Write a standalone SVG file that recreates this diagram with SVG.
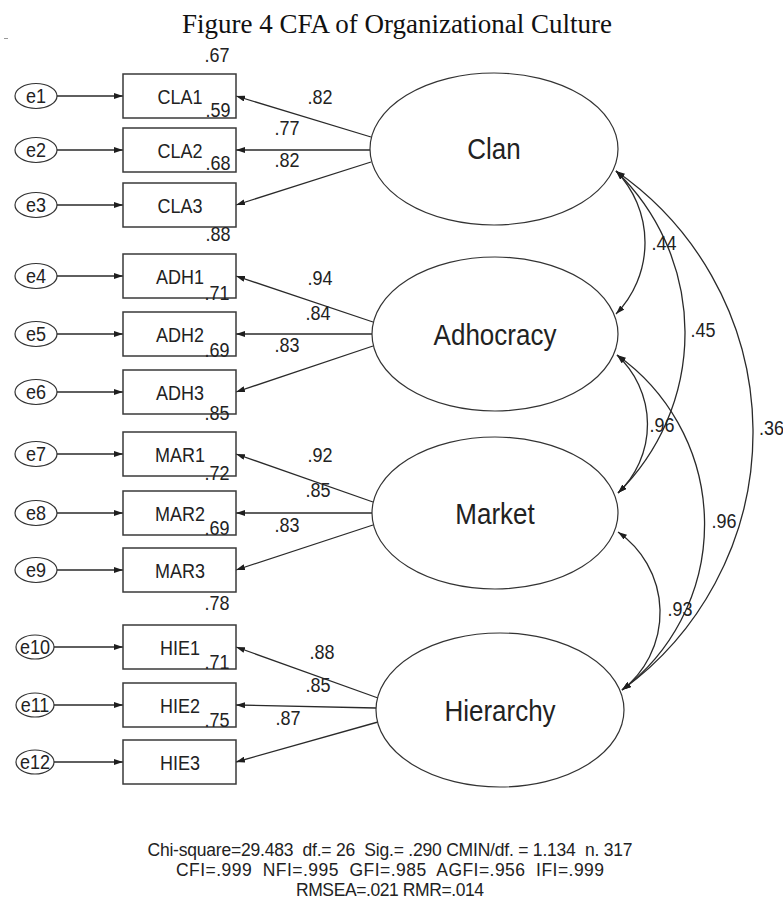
<svg xmlns="http://www.w3.org/2000/svg" width="783" height="919" viewBox="0 0 783 919">
  <defs>
    <marker id="ah" viewBox="0 0 9 6" markerWidth="9" markerHeight="6" refX="9" refY="3" orient="auto-start-reverse" markerUnits="userSpaceOnUse">
      <path d="M0,0 L9,3 L0,6 z" fill="#1e1e1e"/>
    </marker>
  </defs>
  <style>
    .sans { font-family: "Liberation Sans", Arial, Helvetica, sans-serif; fill: #222; }
    .tall { transform-box: fill-box; transform-origin: center; transform: scaleY(1.15); }
    .title { font-family: "Liberation Serif", "Times New Roman", serif; font-size: 27px; fill: #111; }
    .obs rect { fill: #fff; stroke: #3a3a3a; stroke-width: 1.5; }
    .err ellipse, .lat ellipse { fill: #fff; stroke: #333; stroke-width: 1.2; }
    .lbl { font-size: 18px; }
    .big { font-size: 26px; }
    .mid { text-anchor: middle; }
    .conn line, .conn path { fill: none; stroke: #2a2a2a; stroke-width: 1.3; }
    .fit { font-size: 17.5px; text-anchor: middle; }
  </style>
  <rect width="783" height="919" fill="#fff"/>

  <text class="title" x="397" y="33" text-anchor="middle">Figure 4 CFA of Organizational Culture</text>
  <line x1="4" y1="38.5" x2="8" y2="38.5" stroke="#999" stroke-width="1"/>

  <!-- connectors: error terms, loadings, covariances -->
  <g id="connectors" class="conn">
    <line x1="57" y1="96" x2="123" y2="96" marker-end="url(#ah)"/>
    <line x1="57" y1="150" x2="123" y2="150" marker-end="url(#ah)"/>
    <line x1="57" y1="205" x2="123" y2="205" marker-end="url(#ah)"/>
    <line x1="57" y1="276" x2="123" y2="276" marker-end="url(#ah)"/>
    <line x1="57" y1="334" x2="123" y2="334" marker-end="url(#ah)"/>
    <line x1="57" y1="392" x2="123" y2="392" marker-end="url(#ah)"/>
    <line x1="57" y1="454" x2="123" y2="454" marker-end="url(#ah)"/>
    <line x1="57" y1="513" x2="123" y2="513" marker-end="url(#ah)"/>
    <line x1="57" y1="570" x2="123" y2="570" marker-end="url(#ah)"/>
    <line x1="54" y1="647" x2="123" y2="647" marker-end="url(#ah)"/>
    <line x1="54" y1="705" x2="123" y2="705" marker-end="url(#ah)"/>
    <line x1="54" y1="762" x2="123" y2="762" marker-end="url(#ah)"/>

    <line x1="371" y1="137" x2="236" y2="96" marker-end="url(#ah)"/>
    <line x1="370" y1="150" x2="236" y2="150" marker-end="url(#ah)"/>
    <line x1="371" y1="162" x2="236" y2="205" marker-end="url(#ah)"/>
    <line x1="373" y1="322" x2="236" y2="276" marker-end="url(#ah)"/>
    <line x1="372" y1="334" x2="236" y2="334" marker-end="url(#ah)"/>
    <line x1="373" y1="346" x2="236" y2="392" marker-end="url(#ah)"/>
    <line x1="373" y1="502" x2="236" y2="454" marker-end="url(#ah)"/>
    <line x1="372" y1="513" x2="236" y2="513" marker-end="url(#ah)"/>
    <line x1="373" y1="525" x2="236" y2="570" marker-end="url(#ah)"/>
    <line x1="378" y1="698" x2="236" y2="647" marker-end="url(#ah)"/>
    <line x1="376" y1="708" x2="236" y2="705" marker-end="url(#ah)"/>
    <line x1="378" y1="722" x2="236" y2="762" marker-end="url(#ah)"/>

    <path d="M616,171 A102.6,102.6 0 0 1 616,314" marker-start="url(#ah)" marker-end="url(#ah)"/>
    <path d="M616,171 A224.6,224.6 0 0 1 618,493" marker-start="url(#ah)" marker-end="url(#ah)"/>
    <path d="M616,171 A318.3,318.3 0 0 1 622,690" marker-start="url(#ah)" marker-end="url(#ah)"/>
    <path d="M617,355 A94.4,94.4 0 0 1 618,493" marker-start="url(#ah)" marker-end="url(#ah)"/>
    <path d="M617,355 A207.5,207.5 0 0 1 622,690" marker-start="url(#ah)" marker-end="url(#ah)"/>
    <path d="M618,532 A98,98 0 0 1 622,690" marker-start="url(#ah)" marker-end="url(#ah)"/>
  </g>

  <!-- error terms -->
  <g id="e1" class="err"><ellipse cx="36" cy="96" rx="21" ry="12.5"/><text class="sans tall lbl mid" x="36" y="102">e1</text></g>
  <g id="e2" class="err"><ellipse cx="36" cy="150" rx="21" ry="12.5"/><text class="sans tall lbl mid" x="36" y="156">e2</text></g>
  <g id="e3" class="err"><ellipse cx="36" cy="205" rx="21" ry="12.5"/><text class="sans tall lbl mid" x="36" y="211">e3</text></g>
  <g id="e4" class="err"><ellipse cx="36" cy="276" rx="21" ry="12.5"/><text class="sans tall lbl mid" x="36" y="282">e4</text></g>
  <g id="e5" class="err"><ellipse cx="36" cy="334" rx="21" ry="12.5"/><text class="sans tall lbl mid" x="36" y="340">e5</text></g>
  <g id="e6" class="err"><ellipse cx="36" cy="392" rx="21" ry="12.5"/><text class="sans tall lbl mid" x="36" y="398">e6</text></g>
  <g id="e7" class="err"><ellipse cx="36" cy="454" rx="21" ry="12.5"/><text class="sans tall lbl mid" x="36" y="460">e7</text></g>
  <g id="e8" class="err"><ellipse cx="36" cy="513" rx="21" ry="12.5"/><text class="sans tall lbl mid" x="36" y="519">e8</text></g>
  <g id="e9" class="err"><ellipse cx="36" cy="570" rx="21" ry="12.5"/><text class="sans tall lbl mid" x="36" y="576">e9</text></g>
  <g id="e10" class="err"><ellipse cx="35" cy="647" rx="19" ry="12"/><text class="sans tall lbl mid" x="35" y="653">e10</text></g>
  <g id="e11" class="err"><ellipse cx="35" cy="705" rx="19" ry="12"/><text class="sans tall lbl mid" x="35" y="711">e11</text></g>
  <g id="e12" class="err"><ellipse cx="35" cy="762" rx="19" ry="12"/><text class="sans tall lbl mid" x="35" y="768">e12</text></g>

  <!-- observed indicators -->
  <g id="CLA1" class="obs"><rect x="123" y="74" width="113" height="44"/><text class="sans tall lbl mid" x="180" y="103">CLA1</text></g>
  <g id="CLA2" class="obs"><rect x="123" y="128" width="113" height="44"/><text class="sans tall lbl mid" x="180" y="157">CLA2</text></g>
  <g id="CLA3" class="obs"><rect x="123" y="183" width="113" height="44"/><text class="sans tall lbl mid" x="180" y="212">CLA3</text></g>
  <g id="ADH1" class="obs"><rect x="123" y="254" width="113" height="44"/><text class="sans tall lbl mid" x="180" y="283">ADH1</text></g>
  <g id="ADH2" class="obs"><rect x="123" y="312" width="113" height="44"/><text class="sans tall lbl mid" x="180" y="341">ADH2</text></g>
  <g id="ADH3" class="obs"><rect x="123" y="370" width="113" height="44"/><text class="sans tall lbl mid" x="180" y="399">ADH3</text></g>
  <g id="MAR1" class="obs"><rect x="123" y="432" width="113" height="44"/><text class="sans tall lbl mid" x="180" y="461">MAR1</text></g>
  <g id="MAR2" class="obs"><rect x="123" y="491" width="113" height="44"/><text class="sans tall lbl mid" x="180" y="520">MAR2</text></g>
  <g id="MAR3" class="obs"><rect x="123" y="548" width="113" height="44"/><text class="sans tall lbl mid" x="180" y="577">MAR3</text></g>
  <g id="HIE1" class="obs"><rect x="123" y="625" width="113" height="44"/><text class="sans tall lbl mid" x="180" y="654">HIE1</text></g>
  <g id="HIE2" class="obs"><rect x="123" y="683" width="113" height="44"/><text class="sans tall lbl mid" x="180" y="712">HIE2</text></g>
  <g id="HIE3" class="obs"><rect x="123" y="740" width="113" height="44"/><text class="sans tall lbl mid" x="180" y="769">HIE3</text></g>

  <!-- latent factors -->
  <g id="Clan" class="lat"><ellipse cx="494" cy="149" rx="124" ry="76"/><text class="sans tall big mid" x="494" y="158">Clan</text></g>
  <g id="Adhocracy" class="lat"><ellipse cx="495" cy="334" rx="123" ry="77"/><text class="sans tall big mid" x="495" y="344">Adhocracy</text></g>
  <g id="Market" class="lat"><ellipse cx="495" cy="513" rx="123" ry="76"/><text class="sans tall big mid" x="495" y="523">Market</text></g>
  <g id="Hierarchy" class="lat"><ellipse cx="500" cy="710" rx="124" ry="77"/><text class="sans tall big mid" x="500" y="720">Hierarchy</text></g>

  <!-- estimates -->
  <g id="estimates">
    <text class="sans tall lbl mid" x="217" y="61">.67</text>
    <text class="sans tall lbl mid" x="320" y="103">.82</text>
    <text class="sans tall lbl mid" x="218" y="116">.59</text>
    <text class="sans tall lbl mid" x="287" y="134">.77</text>
    <text class="sans tall lbl mid" x="287" y="166">.82</text>
    <text class="sans tall lbl mid" x="218" y="169">.68</text>
    <text class="sans tall lbl mid" x="218" y="240">.88</text>
    <text class="sans tall lbl mid" x="320" y="284">.94</text>
    <text class="sans tall lbl mid" x="217" y="299">.71</text>
    <text class="sans tall lbl mid" x="318" y="319">.84</text>
    <text class="sans tall lbl mid" x="217" y="356">.69</text>
    <text class="sans tall lbl mid" x="287" y="351">.83</text>
    <text class="sans tall lbl mid" x="217" y="419">.85</text>
    <text class="sans tall lbl mid" x="320" y="461">.92</text>
    <text class="sans tall lbl mid" x="217" y="479">.72</text>
    <text class="sans tall lbl mid" x="318" y="496">.85</text>
    <text class="sans tall lbl mid" x="217" y="534">.69</text>
    <text class="sans tall lbl mid" x="287" y="531">.83</text>
    <text class="sans tall lbl mid" x="217" y="609">.78</text>
    <text class="sans tall lbl mid" x="322" y="658">.88</text>
    <text class="sans tall lbl mid" x="217" y="668">.71</text>
    <text class="sans tall lbl mid" x="318" y="691">.85</text>
    <text class="sans tall lbl mid" x="217" y="726">.75</text>
    <text class="sans tall lbl mid" x="288" y="724">.87</text>
    <text class="sans tall lbl mid" x="664" y="249">.44</text>
    <text class="sans tall lbl mid" x="703" y="336">.45</text>
    <text class="sans tall lbl" x="759" y="434">.36</text>
    <text class="sans tall lbl mid" x="662" y="431">.96</text>
    <text class="sans tall lbl mid" x="724" y="527">.96</text>
    <text class="sans tall lbl mid" x="680" y="615">.93</text>
  </g>

  <!-- fit indices -->
  <g id="fit">
    <text class="sans fit" x="390" y="856" textLength="485" xml:space="preserve">Chi-square=29.483  df.= 26  Sig.= .290 CMIN/df. = 1.134  n. 317</text>
    <text class="sans fit" x="390" y="876" textLength="428" xml:space="preserve">CFI=.999  NFI=.995  GFI=.985  AGFI=.956  IFI=.999</text>
    <text class="sans fit" x="390" y="896" textLength="188">RMSEA=.021 RMR=.014</text>
  </g>
</svg>
